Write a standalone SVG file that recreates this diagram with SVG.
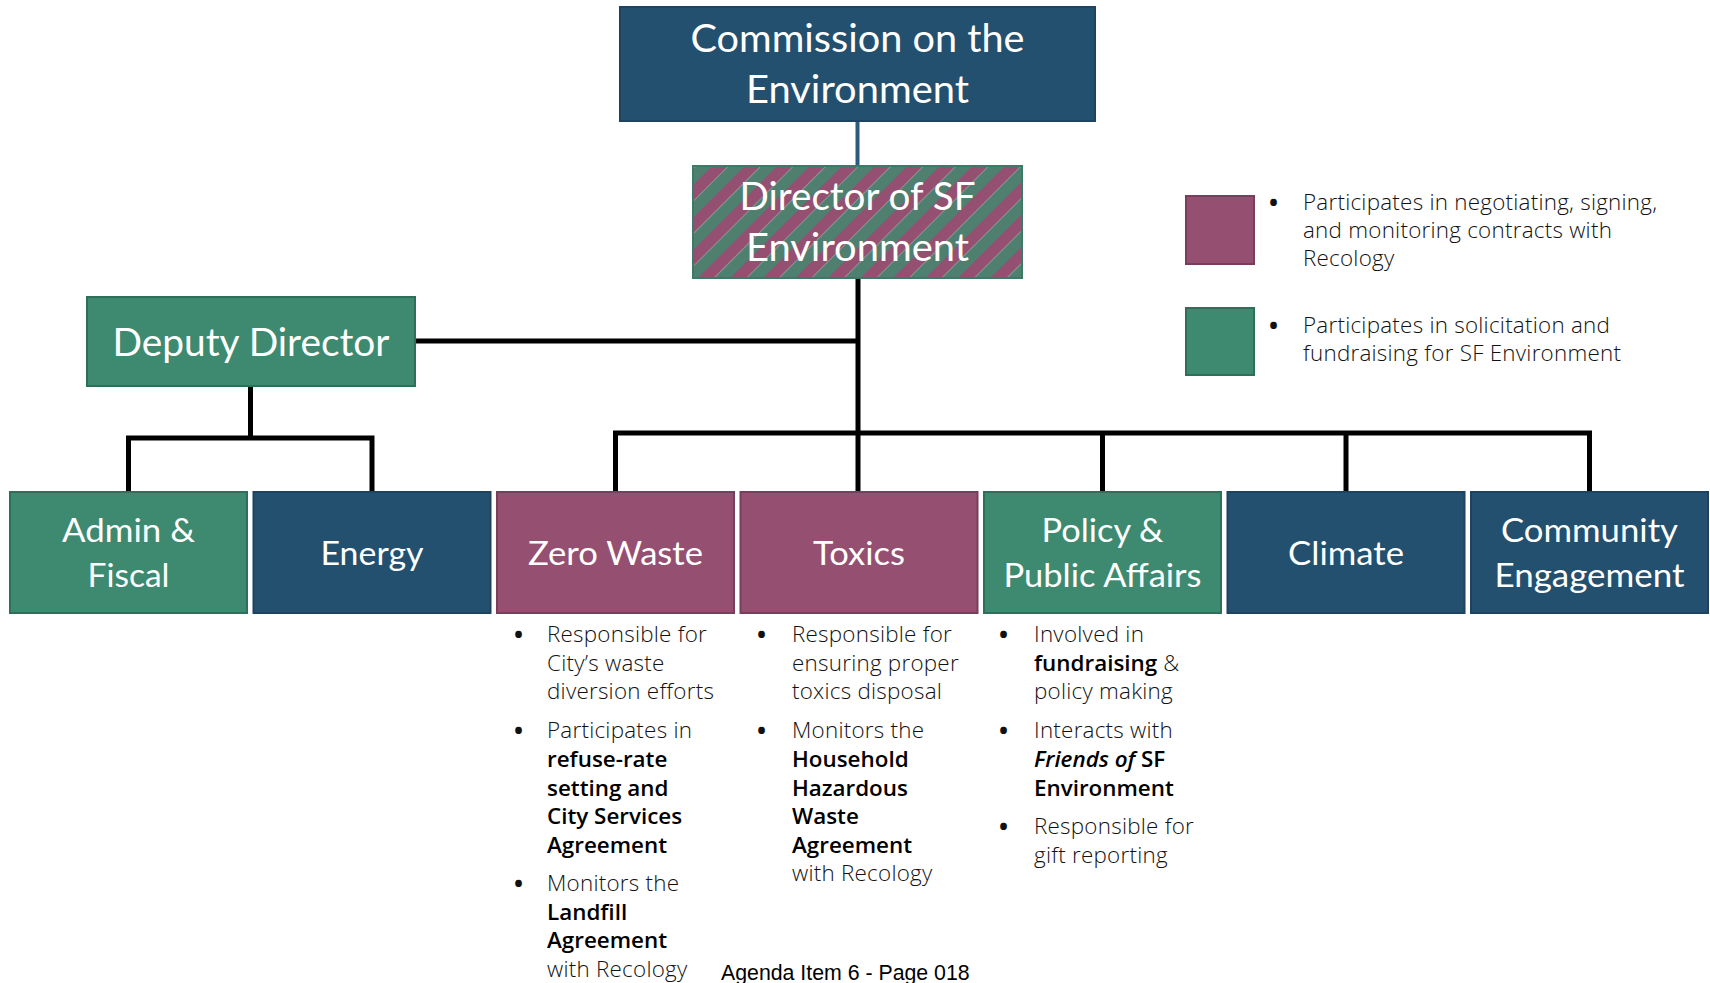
<svg xmlns="http://www.w3.org/2000/svg" width="1710" height="983" viewBox="0 0 1710 983">
<style>
.blue{fill:#24506F;stroke:#1D4360;stroke-width:2}
.purple{fill:#944F71;stroke:#793E5C;stroke-width:2}
.green{fill:#3D8A71;stroke:#2E6F5A;stroke-width:2}
.lbl{font-family:Lato,"Open Sans",sans-serif;fill:#FFFFFF;text-anchor:middle}
.big{font-size:38.4px}
.sm{font-size:33.5px}
.body{font-family:"Open Sans","Noto Sans",sans-serif;font-size:22.4px;font-weight:300;letter-spacing:0.25px;fill:#111111}
.dot{font-family:"Open Sans","Noto Sans",sans-serif;font-size:24px;font-weight:700;fill:#111111}
.b{font-weight:600;letter-spacing:0;fill:#000000}
.bi{font-weight:600;font-style:italic;letter-spacing:0;fill:#000000}
.conn{fill:none;stroke:#000000;stroke-width:5;stroke-linejoin:miter;stroke-linecap:butt}
</style>
<defs>
<pattern id="stripes" patternUnits="userSpaceOnUse" width="23" height="23" patternTransform="rotate(45)">
<rect x="0" y="0" width="11.5" height="23" fill="#944F71"/>
<rect x="11.5" y="0" width="11.5" height="23" fill="#4E7F6F"/>
</pattern>
</defs>
<rect width="1710" height="983" fill="#FFFFFF"/>

<g id="connectors">
<line x1="857.5" y1="121" x2="857.5" y2="166" stroke="#2D5B7C" stroke-width="4"/>
<line class="conn" x1="858" y1="278" x2="858" y2="492"/>
<line class="conn" x1="415" y1="341" x2="860" y2="341"/>
<polyline class="conn" points="250.5,386 250.5,438"/>
<polyline class="conn" points="128.5,492 128.5,438 372,438 372,492"/>
<polyline class="conn" points="615.5,492 615.5,433 1589.5,433 1589.5,492"/>
<line class="conn" x1="1102.5" y1="433" x2="1102.5" y2="492"/>
<line class="conn" x1="1346" y1="433" x2="1346" y2="492"/>
</g>

<g id="commission">
<rect class="blue" x="620" y="7" width="475" height="114"/>
<text class="lbl big" x="857.5" y="52" textLength="334" lengthAdjust="spacingAndGlyphs">Commission on the</text>
<text class="lbl big" x="857.5" y="103" textLength="223" lengthAdjust="spacingAndGlyphs">Environment</text>
</g>

<g id="director">
<rect x="693" y="166" width="329" height="112" fill="url(#stripes)" stroke="#3B7A66" stroke-width="2"/>
<text class="lbl big" x="857.5" y="210" textLength="236" lengthAdjust="spacingAndGlyphs">Director of SF</text>
<text class="lbl big" x="857.5" y="261" textLength="223" lengthAdjust="spacingAndGlyphs">Environment</text>
</g>

<g id="deputy">
<rect class="green" x="87" y="297" width="328" height="89"/>
<text class="lbl big" x="251" y="356" textLength="277" lengthAdjust="spacingAndGlyphs">Deputy Director</text>
</g>

<g id="admin">
<rect class="green" x="10" y="492" width="237" height="121"/>
<text class="lbl sm" x="128.5" y="542" textLength="133" lengthAdjust="spacingAndGlyphs">Admin &amp;</text>
<text class="lbl sm" x="128.5" y="587" textLength="82" lengthAdjust="spacingAndGlyphs">Fiscal</text>
</g>

<g id="energy">
<rect class="blue" x="253.5" y="492" width="237" height="121"/>
<text class="lbl sm" x="372" y="565" textLength="103" lengthAdjust="spacingAndGlyphs">Energy</text>
</g>

<g id="zerowaste">
<rect class="purple" x="497" y="492" width="237" height="121"/>
<text class="lbl sm" x="615.5" y="565" textLength="175" lengthAdjust="spacingAndGlyphs">Zero Waste</text>
</g>

<g id="toxics">
<rect class="purple" x="740.5" y="492" width="237" height="121"/>
<text class="lbl sm" x="859" y="565" textLength="92" lengthAdjust="spacingAndGlyphs">Toxics</text>
</g>

<g id="policy">
<rect class="green" x="984" y="492" width="237" height="121"/>
<text class="lbl sm" x="1102.5" y="542" textLength="122" lengthAdjust="spacingAndGlyphs">Policy &amp;</text>
<text class="lbl sm" x="1102.5" y="587" textLength="198" lengthAdjust="spacingAndGlyphs">Public Affairs</text>
</g>

<g id="climate">
<rect class="blue" x="1227.5" y="492" width="237" height="121"/>
<text class="lbl sm" x="1346" y="565" textLength="116" lengthAdjust="spacingAndGlyphs">Climate</text>
</g>

<g id="community">
<rect class="blue" x="1471" y="492" width="237" height="121"/>
<text class="lbl sm" x="1589.5" y="542" textLength="177" lengthAdjust="spacingAndGlyphs">Community</text>
<text class="lbl sm" x="1589.5" y="587" textLength="190" lengthAdjust="spacingAndGlyphs">Engagement</text>
</g>

<g id="legend">
<rect class="purple" x="1186" y="196" width="68" height="68"/>
<text class="dot" x="1269" y="211">•</text>
<text class="body" x="1303" y="210">Participates in negotiating, signing,</text>
<text class="body" x="1303" y="238">and monitoring contracts with</text>
<text class="body" x="1303" y="266">Recology</text>
<rect class="green" x="1186" y="308" width="68" height="67"/>
<text class="dot" x="1269" y="334">•</text>
<text class="body" x="1303" y="333">Participates in solicitation and</text>
<text class="body" x="1303" y="361">fundraising for SF Environment</text>
</g>

<g id="zerowaste-notes">
<text class="dot" x="514" y="643">•</text>
<text class="body" x="547" y="642">Responsible for</text>
<text class="body" x="547" y="671">City’s waste</text>
<text class="body" x="547" y="699">diversion efforts</text>
<text class="dot" x="514" y="739">•</text>
<text class="body" x="547" y="738">Participates in</text>
<text class="body b" x="547" y="767">refuse-rate</text>
<text class="body b" x="547" y="796">setting and</text>
<text class="body b" x="547" y="824">City Services</text>
<text class="body b" x="547" y="853">Agreement</text>
<text class="dot" x="514" y="892">•</text>
<text class="body" x="547" y="891">Monitors the</text>
<text class="body b" x="547" y="920">Landfill</text>
<text class="body b" x="547" y="948">Agreement</text>
<text class="body" x="547" y="977">with Recology</text>
</g>

<g id="toxics-notes">
<text class="dot" x="757" y="643">•</text>
<text class="body" x="792" y="642">Responsible for</text>
<text class="body" x="792" y="671">ensuring proper</text>
<text class="body" x="792" y="699">toxics disposal</text>
<text class="dot" x="757" y="739">•</text>
<text class="body" x="792" y="738">Monitors the</text>
<text class="body b" x="792" y="767">Household</text>
<text class="body b" x="792" y="796">Hazardous</text>
<text class="body b" x="792" y="824">Waste</text>
<text class="body b" x="792" y="853">Agreement</text>
<text class="body" x="792" y="881">with Recology</text>
</g>

<g id="policy-notes">
<text class="dot" x="999" y="643">•</text>
<text class="body" x="1034" y="642">Involved in</text>
<text class="body" x="1034" y="671"><tspan class="b">fundraising</tspan> &amp;</text>
<text class="body" x="1034" y="699">policy making</text>
<text class="dot" x="999" y="739">•</text>
<text class="body" x="1034" y="738">Interacts with</text>
<text class="body" x="1034" y="767"><tspan class="bi">Friends of</tspan><tspan class="b"> SF</tspan></text>
<text class="body b" x="1034" y="796">Environment</text>
<text class="dot" x="999" y="835">•</text>
<text class="body" x="1034" y="834">Responsible for</text>
<text class="body" x="1034" y="863">gift reporting</text>
</g>

<g id="footer">
<text x="721" y="980" font-family="'Liberation Sans',Arial,sans-serif" font-size="21.3px" fill="#000000">Agenda Item 6 - Page 018</text>
</g>
</svg>
